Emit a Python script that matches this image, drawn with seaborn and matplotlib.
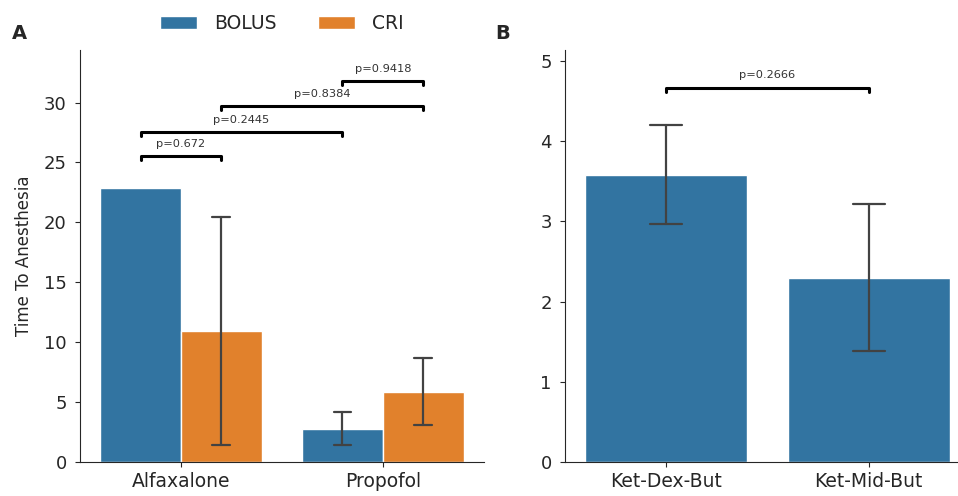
import pandas as pd
import matplotlib.pyplot as plt
import seaborn as sns

# Panel A: time to anesthesia by drug and protocol
drugs = ['Alfaxalone', 'Alfaxalone', 'Propofol', 'Propofol']
protocols = ['BOLUS', 'CRI', 'BOLUS', 'CRI']
means_a = [22.9, 10.95, 2.75, 5.88]
lower_a = [None, 1.45, 1.40, 3.10]
upper_a = [None, 20.45, 4.15, 8.66]

# comparisons in panel A: (drug, protocol) pairs, bracket height, p value
pairs_a = [(('Alfaxalone', 'BOLUS'), ('Alfaxalone', 'CRI')),
           (('Alfaxalone', 'BOLUS'), ('Propofol', 'BOLUS')),
           (('Alfaxalone', 'CRI'), ('Propofol', 'CRI')),
           (('Propofol', 'BOLUS'), ('Propofol', 'CRI'))]
heights_a = [25.5, 27.55, 29.7, 31.8]
pvals_a = ['p=0.672', 'p=0.2445', 'p=0.8384', 'p=0.9418']

# Panel B
protocols_b = ['Ket-Dex-But', 'Ket-Mid-But']
means_b = [3.58, 2.29]
lower_b = [2.97, 1.38]
upper_b = [4.20, 3.22]
height_b = 4.67
pval_b = 'p=0.2666'

sns.set_style('ticks')
plt.rcParams['font.family'] = ['DejaVu Sans']

df_a = pd.DataFrame({'Drug': drugs, 'Protocol': protocols, 'Time': means_a})
df_b = pd.DataFrame({'Protocol': protocols_b, 'Time': means_b})

fig = plt.figure(figsize=(9.58, 4.96), dpi=100)
ax1 = fig.add_axes([0.0835, 0.0685, 0.4215, 0.831])
ax2 = fig.add_axes([0.5898, 0.0685, 0.4227, 0.831])

err_color = '#424242'

# ---- panel A
sns.barplot(data=df_a, x='Drug', y='Time', hue='Protocol', errorbar=None,
            ax=ax1, width=0.8)
# map each bar to its (drug, protocol) using the bar geometry
bars = [p for p in ax1.patches if p.get_height() > 0]
bars = sorted(bars, key=lambda p: p.get_x())
centers = {}
for (d, pr, lo, hi), b in zip(
        sorted(zip(drugs, protocols, lower_a, upper_a),
               key=lambda t: (t[0], t[1])), bars):
    cx = b.get_x() + b.get_width() / 2
    centers[(d, pr)] = cx
    if lo is not None:
        ax1.plot([cx, cx], [lo, hi], color=err_color, lw=1.6)
        cw = b.get_width() * 0.11
        ax1.plot([cx - cw, cx + cw], [lo, lo], color=err_color, lw=1.6)
        ax1.plot([cx - cw, cx + cw], [hi, hi], color=err_color, lw=1.6)

for (g1, g2), h, p in zip(pairs_a, heights_a, pvals_a):
    x1, x2 = centers[g1], centers[g2]
    ax1.plot([x1, x1, x2, x2], [h - 0.3, h, h, h - 0.3], color='black', lw=2.2)
    ax1.text((x1 + x2) / 2, h + 0.6, p, ha='center', va='bottom',
             fontsize=8.2, color='#333333')

ax1.set_ylim(0, 34.4)
ax1.set_xlim(-0.5, 1.5)
ax1.set_xlabel('')
ax1.set_ylabel('Time To Anesthesia', fontsize=12, color='#262626', labelpad=8)
ax1.tick_params(axis='x', labelsize=13.5)
ax1.tick_params(axis='y', labelsize=13, pad=6)
ax1.legend(loc='lower center', bbox_to_anchor=(0.5, 1.022), ncol=2,
           frameon=False, fontsize=13.5, handlelength=2.0, handleheight=0.7,
           columnspacing=2.2, handletextpad=0.9, borderaxespad=0)
sns.despine(ax=ax1)

# ---- panel B
sns.barplot(data=df_b, x='Protocol', y='Time', errorbar=None, ax=ax2,
            color='#3274a1', saturation=1, width=0.8)
bars_b = sorted(ax2.patches, key=lambda p: p.get_x())
cx_b = []
for b, lo, hi in zip(bars_b, lower_b, upper_b):
    cx = b.get_x() + b.get_width() / 2
    cx_b.append(cx)
    cw = b.get_width() * 0.1
    ax2.plot([cx, cx], [lo, hi], color=err_color, lw=1.6)
    ax2.plot([cx - cw, cx + cw], [lo, lo], color=err_color, lw=1.6)
    ax2.plot([cx - cw, cx + cw], [hi, hi], color=err_color, lw=1.6)

x1, x2 = cx_b
ax2.plot([x1, x1, x2, x2], [height_b - 0.05, height_b, height_b, height_b - 0.05],
         color='black', lw=2.2)
ax2.text((x1 + x2) / 2, height_b + 0.1, pval_b, ha='center', va='bottom',
         fontsize=8.2, color='#333333')

ax2.set_ylim(0, 5.14)
ax2.set_xlim(-0.5, 1.5)
ax2.set_yticks([0, 1, 2, 3, 4, 5])
ax2.set_xlabel('')
ax2.set_ylabel('')
ax2.tick_params(axis='x', labelsize=13.5)
ax2.tick_params(axis='y', labelsize=13, pad=6)
sns.despine(ax=ax2)

fig.text(0.012, 0.922, 'A', fontsize=14, fontweight='bold')
fig.text(0.517, 0.922, 'B', fontsize=14, fontweight='bold')

fig.savefig('out.png', dpi=100)
